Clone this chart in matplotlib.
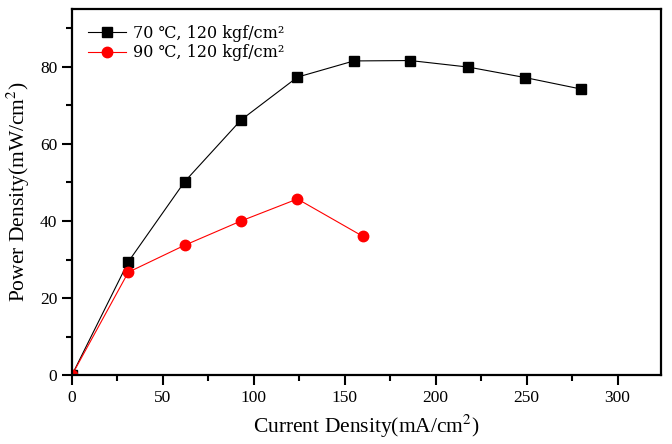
import matplotlib
matplotlib.use("Agg")
import matplotlib.pyplot as plt
from matplotlib.ticker import MultipleLocator

# Power density curves
current_70 = [0, 31, 62, 93, 124, 155, 186, 218, 249, 280]
power_70 = [0, 29.4, 50.2, 66.2, 77.3, 81.5, 81.6, 79.9, 77.2, 74.2]

current_90 = [0, 31, 62, 93, 124, 160]
power_90 = [0, 26.7, 33.7, 40.0, 45.7, 36.0]

label_70 = "70 \u2103, 120 kgf/cm\u00b2"
label_90 = "90 \u2103, 120 kgf/cm\u00b2"

plt.rcParams['font.family'] = ['Liberation Serif', 'DejaVu Serif']
plt.rcParams['mathtext.fontset'] = 'stix'

fig = plt.figure(figsize=(6.72, 4.44), dpi=100)
ax = fig.add_axes([0.107, 0.155, 0.877, 0.825])

ax.plot(current_70, power_70, color='black', linewidth=0.8, marker='s',
        markersize=7, label=label_70)
ax.plot(current_90, power_90, color='red', linewidth=0.8, marker='o',
        markersize=7.5, label=label_90)

ax.set_xlim(0, 324)
ax.set_ylim(0, 95)
ax.xaxis.set_major_locator(MultipleLocator(50))
ax.xaxis.set_minor_locator(MultipleLocator(25))
ax.yaxis.set_major_locator(MultipleLocator(20))
ax.yaxis.set_minor_locator(MultipleLocator(10))

for s in ax.spines.values():
    s.set_linewidth(1.6)
ax.tick_params(which='major', direction='out', length=7, width=1.5, labelsize=12.5)
ax.tick_params(which='minor', direction='out', length=4.5, width=1.5)

ax.set_xlabel("Current Density(mA/cm$^2$)", fontsize=15.5, labelpad=5)
ax.set_ylabel("Power Density(mW/cm$^2$)", fontsize=15.5, labelpad=6)

ax.legend(loc='upper left', frameon=False, handlelength=2.4,
          borderaxespad=0.6, labelspacing=0.15, handletextpad=0.4,
          prop={'family': ['DejaVu Serif'], 'size': 11.5})

fig.savefig("out.png", dpi=100)
